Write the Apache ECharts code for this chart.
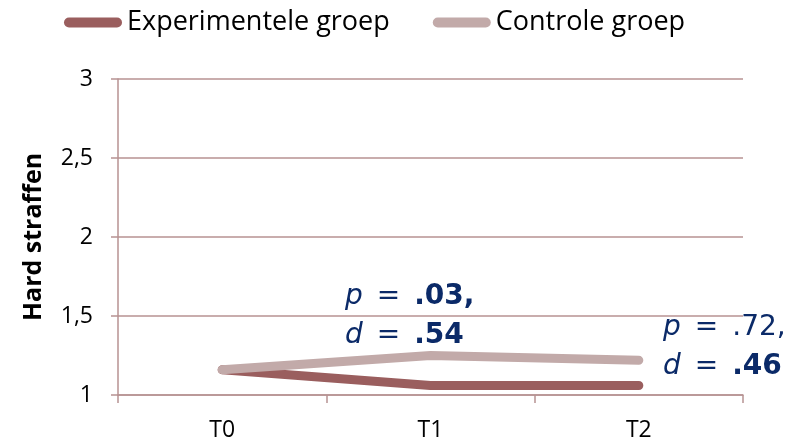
<!DOCTYPE html>
<html>
<head>
<meta charset="utf-8">
<script src="https://cdn.jsdelivr.net/npm/echarts@6/dist/echarts.min.js"></script>
<style>html,body{margin:0;padding:0;background:#fff;}#c{width:805px;height:444px;}</style>
</head>
<body>
<div id="c"></div>
<script>
const categories = ['T0', 'T1', 'T2'];
const experimentele = [1.16, 1.06, 1.06];
const controle = [1.16, 1.25, 1.22];
const seriesNames = ['Experimentele groep', 'Controle groep'];
const yTickLabels = {'1': '1', '1.5': '1,5', '2': '2', '2.5': '2,5', '3': '3'};
const annotT1 = ['p', '.03,', 'd', '.54'];
const annotT2 = ['p', '.72,', 'd', '.46'];

const gridColor = '#B79292';
const navy = '#0B2A68';
const chart = echarts.init(document.getElementById('c'), null, {renderer: 'canvas'});
const base = {fontFamily: 'DejaVu Sans', fontSize: 28, fill: navy, lineHeight: 39};
const rich = {
  i: Object.assign({}, base, {fontStyle: 'italic'}),
  s: Object.assign({}, base, {width: 14}),
  r: Object.assign({}, base),
  b: Object.assign({}, base, {fontWeight: 'bold'})
};
const eq = '{s| }{r|=}{s| }';
chart.setOption({
  animation: false,
  backgroundColor: '#fff',
  legend: {
    left: 59, top: 4,
    itemWidth: 58, itemHeight: 10, itemGap: 43,
    icon: 'path://M5,0 L53,0 A5,5 0 0 1 53,10 L5,10 A5,5 0 0 1 5,0 Z',
    textStyle: {fontFamily: 'Open Sans', fontSize: 27, color: '#000'},
    data: seriesNames
  },
  grid: {left: 118, right: 62, top: 79, bottom: 49, containLabel: false},
  xAxis: {
    type: 'category', data: categories, boundaryGap: true,
    axisLine: {lineStyle: {color: gridColor, width: 1.5}},
    axisTick: {show: true, length: 8, lineStyle: {color: gridColor, width: 1.5}},
    axisLabel: {fontFamily: 'Open Sans', fontSize: 23, color: '#000', margin: 24},
    splitLine: {show: false}
  },
  yAxis: {
    type: 'value', min: 1, max: 3, interval: 0.5,
    name: 'Hard straffen', nameLocation: 'middle', nameGap: 72,
    nameTextStyle: {fontFamily: 'Open Sans', fontWeight: 'bold', fontSize: 25, color: '#000'},
    axisLine: {show: true, lineStyle: {color: gridColor, width: 1.5}},
    axisTick: {show: true, length: 7, lineStyle: {color: gridColor, width: 1.5}},
    axisLabel: {fontFamily: 'Open Sans', fontSize: 23, color: '#000', margin: 25,
      formatter: v => yTickLabels[String(v)] !== undefined ? yTickLabels[String(v)] : String(v).replace('.', ',')},
    splitLine: {show: true, lineStyle: {color: gridColor, width: 1.5}}
  },
  series: [
    {name: seriesNames[0], type: 'line', data: experimentele, symbol: 'none', z: 2,
      color: '#9A5E5E', lineStyle: {width: 9, color: '#9A5E5E', cap: 'round', join: 'round'}},
    {name: seriesNames[1], type: 'line', data: controle, symbol: 'none', z: 3,
      color: '#C2AAA9', lineStyle: {width: 9, color: '#C2AAA9', cap: 'round', join: 'round'}}
  ],
  graphic: [
    {type: 'text', left: 345, top: 283, z: 10, style: {
      text: '{i|' + annotT1[0] + '}' + eq + '{b|' + annotT1[1] + '}\n{i|' + annotT1[2] + '}' + eq + '{b|' + annotT1[3] + '}',
      rich: rich}},
    {type: 'text', left: 663, top: 314, z: 10, style: {
      text: '{i|' + annotT2[0] + '}' + eq + '{r|' + annotT2[1] + '}\n{i|' + annotT2[2] + '}' + eq + '{b|' + annotT2[3] + '}',
      rich: rich}}
  ]
});
</script>
</body>
</html>
